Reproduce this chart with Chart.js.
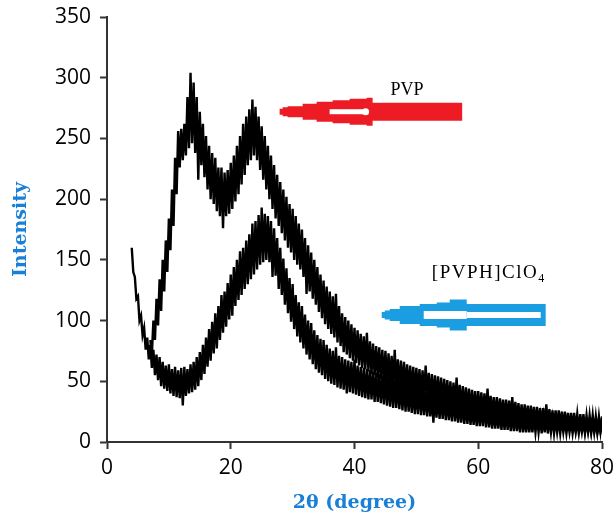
<!DOCTYPE html>
<html>
<head>
<meta charset="utf-8">
<script src="https://cdn.jsdelivr.net/npm/chart.js@4.4.0/dist/chart.umd.min.js"></script>
<style>
  html, body { margin: 0; padding: 0; background: #fff; }
</style>
</head>
<body>
<canvas id="xrd" width="614" height="521"></canvas>
<script>
// 2θ scan positions (degree)
const twoTheta = [
  4, 4.25, 4.5, 4.75, 5, 5.25, 5.5, 5.75, 6, 6.25, 6.5, 6.75, 7, 7.25, 7.5, 7.75, 8, 8.25, 8.5, 8.75,
  9, 9.25, 9.5, 9.75, 10, 10.25, 10.5, 10.75, 11, 11.25, 11.5, 11.75, 12, 12.25, 12.5, 12.75, 13, 13.25, 13.5, 13.75,
  14, 14.25, 14.5, 14.75, 15, 15.25, 15.5, 15.75, 16, 16.25, 16.5, 16.75, 17, 17.25, 17.5, 17.75, 18, 18.25, 18.5, 18.75,
  19, 19.25, 19.5, 19.75, 20, 20.25, 20.5, 20.75, 21, 21.25, 21.5, 21.75, 22, 22.25, 22.5, 22.75, 23, 23.25, 23.5, 23.75,
  24, 24.25, 24.5, 24.75, 25, 25.25, 25.5, 25.75, 26, 26.25, 26.5, 26.75, 27, 27.25, 27.5, 27.75, 28, 28.25, 28.5, 28.75,
  29, 29.25, 29.5, 29.75, 30, 30.25, 30.5, 30.75, 31, 31.25, 31.5, 31.75, 32, 32.25, 32.5, 32.75, 33, 33.25, 33.5, 33.75,
  34, 34.25, 34.5, 34.75, 35, 35.25, 35.5, 35.75, 36, 36.25, 36.5, 36.75, 37, 37.25, 37.5, 37.75, 38, 38.25, 38.5, 38.75,
  39, 39.25, 39.5, 39.75, 40, 40.25, 40.5, 40.75, 41, 41.25, 41.5, 41.75, 42, 42.25, 42.5, 42.75, 43, 43.25, 43.5, 43.75,
  44, 44.25, 44.5, 44.75, 45, 45.25, 45.5, 45.75, 46, 46.25, 46.5, 46.75, 47, 47.25, 47.5, 47.75, 48, 48.25, 48.5, 48.75,
  49, 49.25, 49.5, 49.75, 50, 50.25, 50.5, 50.75, 51, 51.25, 51.5, 51.75, 52, 52.25, 52.5, 52.75, 53, 53.25, 53.5, 53.75,
  54, 54.25, 54.5, 54.75, 55, 55.25, 55.5, 55.75, 56, 56.25, 56.5, 56.75, 57, 57.25, 57.5, 57.75, 58, 58.25, 58.5, 58.75,
  59, 59.25, 59.5, 59.75, 60, 60.25, 60.5, 60.75, 61, 61.25, 61.5, 61.75, 62, 62.25, 62.5, 62.75, 63, 63.25, 63.5, 63.75,
  64, 64.25, 64.5, 64.75, 65, 65.25, 65.5, 65.75, 66, 66.25, 66.5, 66.75, 67, 67.25, 67.5, 67.75, 68, 68.25, 68.5, 68.75,
  69, 69.25, 69.5, 69.75, 70, 70.25, 70.5, 70.75, 71, 71.25, 71.5, 71.75, 72, 72.25, 72.5, 72.75, 73, 73.25, 73.5, 73.75,
  74, 74.25, 74.5, 74.75, 75, 75.25, 75.5, 75.75, 76, 76.25, 76.5, 76.75, 77, 77.25, 77.5, 77.75, 78, 78.25, 78.5, 78.75,
  79, 79.25, 79.5, 79.75, 80
];

// PVP intensity (no data below 7°)
const pvpIntensity = [
  null, null, null, null, null, null, null, null, null, null, null, null, 84, 72, 100, 84, 118, 96, 134, 108,
  150, 124, 166, 140, 184, 158, 208, 178, 234, 204, 256, 226, 258, 232, 262, 236, 284, 242, 304, 246,
  296, 238, 284, 216, 272, 228, 262, 218, 252, 208, 244, 200, 238, 196, 234, 190, 226, 186, 226, 176,
  222, 186, 224, 188, 230, 192, 236, 198, 244, 204, 252, 212, 262, 220, 268, 228, 274, 232, 282, 236,
  276, 232, 268, 224, 260, 216, 252, 208, 244, 200, 236, 192, 228, 184, 220, 178, 214, 172, 208, 166,
  202, 160, 196, 156, 192, 150, 186, 146, 180, 142, 175, 136, 168, 122, 162, 124, 156, 118, 150, 113,
  144, 107, 138, 102, 133, 97, 128, 93, 124, 89, 120, 86, 122, 82, 112, 79, 106, 74, 103, 72,
  100, 69, 97, 67, 94, 65, 92, 63, 89, 61, 87, 60, 90, 58, 83, 56, 81, 55, 79, 53,
  78, 52, 76, 50, 75, 49, 73, 48, 71, 46, 76, 45, 68, 44, 67, 43, 66, 42, 64, 41,
  63, 40, 62, 39, 61, 38, 60, 37, 59, 37, 63, 36, 57, 35, 56, 34, 55, 33, 54, 32,
  53, 31, 52, 31, 51, 30, 50, 29, 49, 28, 53, 27, 47, 26, 46, 26, 45, 25, 44, 24,
  43, 24, 42, 23, 42, 23, 41, 22, 40, 22, 44, 21, 38, 21, 37, 20, 37, 20, 36, 19,
  35, 19, 35, 18, 34, 18, 37, 17, 33, 17, 32, 16, 31, 16, 31, 15, 30, 15, 30, 15,
  29, 14, 29, 14, 28, 14, 28, 13, 31, 13, 27, 13, 26, 12, 26, 12, 26, 12, 25, 12,
  25, 11, 24, 11, 24, 11, 24, 11, 23, 10, 23, 10, 23, 10, 22, 10, 22, 10, 22, 9,
  21, 9, 21, 9, 21
];

// [PVPH]ClO4 intensity
const saltIntensity = [
  160, 140, 136, 118, 120, 100, 104, 88, 94, 76, 86, 68, 80, 61, 76, 55, 72, 51, 70, 46,
  66, 44, 63, 42, 64, 40, 60, 38, 62, 37, 59, 36, 61, 30, 62, 38, 60, 40, 64, 41,
  66, 43, 70, 46, 74, 51, 80, 56, 86, 62, 93, 67, 99, 73, 106, 77, 112, 84, 121, 90,
  124, 95, 131, 101, 138, 104, 144, 112, 150, 117, 157, 121, 160, 126, 166, 130, 171, 134, 180, 138,
  182, 142, 187, 146, 193, 148, 188, 150, 186, 148, 182, 136, 176, 137, 168, 126, 160, 121, 151, 113,
  143, 106, 135, 99, 130, 93, 121, 87, 115, 82, 112, 77, 105, 72, 100, 68, 98, 64, 92, 60,
  88, 57, 85, 55, 84, 52, 80, 50, 77, 48, 75, 47, 78, 45, 71, 44, 70, 43, 68, 40,
  67, 41, 66, 40, 68, 39, 63, 38, 62, 37, 61, 36, 60, 35, 59, 35, 58, 33, 57, 33,
  56, 32, 55, 31, 56, 30, 53, 29, 52, 28, 51, 28, 50, 27, 49, 26, 48, 25, 47, 25,
  46, 24, 45, 23, 44, 23, 46, 22, 42, 22, 41, 21, 40, 21, 40, 16, 39, 20, 38, 19,
  37, 19, 37, 18, 36, 18, 35, 17, 38, 17, 34, 16, 33, 16, 32, 15, 32, 15, 31, 14,
  30, 14, 30, 13, 29, 13, 29, 13, 31, 12, 28, 12, 27, 11, 27, 11, 26, 11, 26, 10,
  25, 10, 25, 10, 24, 9, 24, 9, 23, 9, 23, 8, 25, 8, 22, 8, 22, 8, 21, 8,
  21, 8, 20, 8, 20, 7, 20, 8, 22, 7, 19, 8, 19, 7, 18, 8, 18, 7, 18, 8,
  17, 7, 17, 8, 17, 7, 16, 8, 16, 7, 16, 8, 16, 7, 15, 8, 15, 7, 15, 8,
  15, 7, 14, 8, 14
];

const xTicks = [0, 20, 40, 60, 80];
const yTicks = [0, 50, 100, 150, 200, 250, 300, 350];

const titleBlue = '#1a7fd6';

function toPoints(values) {
  return twoTheta.map((t, i) => ({ x: t, y: values[i] }));
}

// left-pointing stepped arrows with their labels
function drawArrow(ctx, tipX, tailX, cy, steps, tailHalf, color, hollow) {
  const headEnd = tipX + steps[steps.length - 1][0];
  ctx.beginPath();
  ctx.moveTo(tipX, cy);
  for (let i = 1; i < steps.length; i++) {
    ctx.lineTo(tipX + steps[i - 1][0], cy - steps[i][1]);
    ctx.lineTo(tipX + steps[i][0], cy - steps[i][1]);
  }
  ctx.lineTo(headEnd, cy - tailHalf);
  ctx.lineTo(tailX, cy - tailHalf);
  ctx.lineTo(tailX, cy + tailHalf);
  ctx.lineTo(headEnd, cy + tailHalf);
  for (let i = steps.length - 1; i >= 1; i--) {
    ctx.lineTo(tipX + steps[i][0], cy + steps[i][1]);
    ctx.lineTo(tipX + steps[i - 1][0], cy + steps[i][1]);
  }
  ctx.closePath();
  ctx.fillStyle = color;
  ctx.fill();

  ctx.fillStyle = '#fff';
  if (hollow) {
    ctx.fillRect(tipX + 42, cy - 4, headEnd - tipX - 42, 8);
    ctx.fillRect(headEnd, cy - 3, tailX - headEnd - 5, 6);
  } else {
    ctx.fillRect(tipX + 50, cy - 2.5, 36, 5);
    ctx.beginPath();
    ctx.arc(tipX + 86, cy, 3.5, 0, Math.PI * 2);
    ctx.fill();
  }
}

const annotations = {
  id: 'annotations',
  afterDatasetsDraw(chart) {
    const { ctx, scales: { x, y } } = chart;
    ctx.save();
    drawArrow(ctx, x.getPixelForValue(27.9), x.getPixelForValue(57.4), y.getPixelForValue(272),
      [[0, 0], [3, 3], [8, 4.5], [23, 5.5], [37, 8], [53, 10], [70, 11.5], [87, 13], [93, 14]],
      9, '#ed1c24', false);
    drawArrow(ctx, x.getPixelForValue(44.4), x.getPixelForValue(70.9), y.getPixelForValue(104.6),
      [[0, 0], [3, 3], [8, 4.5], [18, 6], [38, 9], [55, 11], [68, 12.5], [85, 15.5]],
      11, '#1b9de2', true);

    ctx.fillStyle = '#000';
    ctx.textBaseline = 'alphabetic';
    ctx.textAlign = 'left';
    ctx.font = '18px "Liberation Serif"';
    ctx.fillText('PVP', x.getPixelForValue(45.8), y.getPixelForValue(286));
    const sx = x.getPixelForValue(52.5);
    const sy = y.getPixelForValue(135);
    ctx.font = '19px "Liberation Serif"';
    ctx.letterSpacing = '1.5px';
    ctx.fillText('[PVPH]ClO', sx, sy);
    const w = ctx.measureText('[PVPH]ClO').width;
    ctx.font = '12px "Liberation Serif"';
    ctx.fillText('4', sx + w, sy + 4);
    ctx.restore();
  }
};

new Chart(document.getElementById('xrd').getContext('2d'), {
  type: 'line',
  data: {
    datasets: [
      {
        label: 'PVP',
        data: toPoints(pvpIntensity),
        borderColor: '#000',
        borderWidth: 2.4,
        pointRadius: 0,
        tension: 0
      },
      {
        label: '[PVPH]ClO4',
        data: toPoints(saltIntensity),
        borderColor: '#000',
        borderWidth: 2.4,
        pointRadius: 0,
        tension: 0
      }
    ]
  },
  options: {
    responsive: false,
    animation: false,
    layout: { padding: { top: 17, right: 12, left: 0, bottom: 0 } },
    plugins: {
      legend: { display: false },
      tooltip: { enabled: false }
    },
    scales: {
      x: {
        type: 'linear',
        min: 0,
        max: 80,
        afterBuildTicks: (s) => { s.ticks = xTicks.map(v => ({ value: v })); },
        afterFit: (s) => { s.height = 79; s.paddingLeft = 0; s.paddingRight = 0; },
        ticks: {
          color: '#000',
          font: { family: 'Open Sans', size: 21 },
          padding: 6,
          maxRotation: 0
        },
        grid: { drawOnChartArea: false, drawTicks: true, tickLength: 7, tickWidth: 2, color: '#333' },
        border: { display: true, color: '#333', width: 2 },
        title: {
          display: true,
          text: '2θ (degree)',
          color: titleBlue,
          font: { family: 'DejaVu Serif', size: 19, weight: 'bold' },
          padding: { top: 0, bottom: 7 }
        }
      },
      y: {
        min: 0,
        max: 350,
        afterBuildTicks: (s) => { s.ticks = yTicks.map(v => ({ value: v })); },
        afterFit: (s) => { s.width = 107; s.paddingTop = 0; s.paddingBottom = 0; },
        ticks: {
          color: '#000',
          font: { family: 'Open Sans', size: 21 },
          padding: 9
        },
        grid: { drawOnChartArea: false, drawTicks: true, tickLength: 7, tickWidth: 2, color: '#333' },
        border: { display: true, color: '#333', width: 2 },
        title: {
          display: true,
          text: 'Intensity',
          color: titleBlue,
          font: { family: 'DejaVu Serif', size: 19, weight: 'bold' },
          padding: { top: 10, bottom: 0 }
        }
      }
    }
  },
  plugins: [annotations]
});
</script>
</body>
</html>
